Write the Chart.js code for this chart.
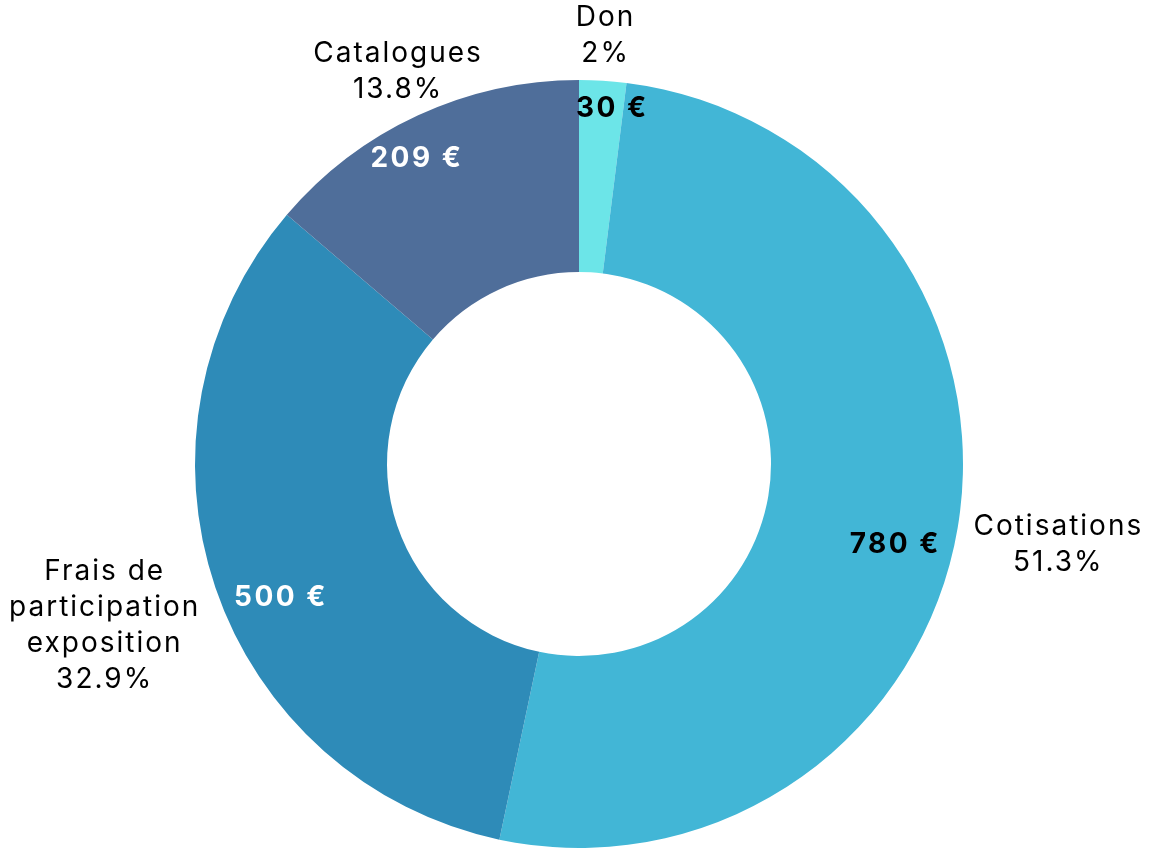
<!DOCTYPE html>
<html>
<head>
<meta charset="utf-8">
<script src="https://cdn.jsdelivr.net/npm/chart.js@4"></script>
<style>
  html, body { margin: 0; padding: 0; background: #fff; }
  #wrap { width: 1152px; height: 854px; }
</style>
</head>
<body>
<div id="wrap"><canvas id="pieChart" width="1152" height="854"></canvas></div>
<script>
// Données du graphique
const categories = ['Don', 'Cotisations', 'Frais de participation exposition', 'Catalogues'];
const montants = [30, 780, 500, 209];
const couleurs = ['#6ce5e8', '#42b6d6', '#2e8bb8', '#4f6e9a'];
const couleursValeurs = ['#000000', '#000000', '#ffffff', '#ffffff'];
// lignes des étiquettes extérieures
const lignesNoms = [['Don'], ['Cotisations'], ['Frais de', 'participation', 'exposition'], ['Catalogues']];
// petits décalages (degrés, fraction du rayon) pour les montants
const decalAngle = [1.8, 4.7, -5.3, -3.2];
const decalRayon = [0.93, 0.85, 0.85, 0.9];

const FONT = 'Inter, "Open Sans", sans-serif';

function formatPct(v, total) {
    let s = (v / total * 100).toFixed(1);
    if (s.endsWith('.0')) s = s.slice(0, -2);
    return s + '%';
}

const etiquettes = {
    id: 'etiquettes',
    afterDatasetsDraw(chart) {
        const ctx = chart.ctx;
        const meta = chart.getDatasetMeta(0);
        const total = montants.reduce((a, b) => a + b, 0);
        ctx.save();
        ctx.textAlign = 'center';
        ctx.textBaseline = 'middle';
        meta.data.forEach((arc, i) => {
            const p = arc.getProps(['x', 'y', 'startAngle', 'endAngle', 'outerRadius'], true);
            const mid = (p.startAngle + p.endAngle) / 2;

            // montant à l'intérieur
            const a = mid + decalAngle[i] * Math.PI / 180;
            const r = p.outerRadius * decalRayon[i];
            ctx.font = 'bold 28px ' + FONT;
            ctx.letterSpacing = '2.5px';
            ctx.fillStyle = couleursValeurs[i];
            ctx.fillText(montants[i] + ' €', p.x + Math.cos(a) * r, p.y + Math.sin(a) * r);

            // nom + pourcentage à l'extérieur
            const lignes = lignesNoms[i].concat([formatPct(montants[i], total)]);
            ctx.font = '28px ' + FONT;
            ctx.letterSpacing = '2px';
            const lh = 36;
            const w = Math.max(...lignes.map(l => ctx.measureText(l).width));
            const h = lignes.length * lh - 14;
            const ux = Math.cos(mid), uy = Math.sin(mid);
            const d = Math.min(Math.abs(ux) > 1e-6 ? (w / 2) / Math.abs(ux) : 1e9,
                               Math.abs(uy) > 1e-6 ? (h / 2) / Math.abs(uy) : 1e9);
            const rr = p.outerRadius + 16 + d;
            const cx = p.x + ux * rr, cy = p.y + uy * rr;
            ctx.fillStyle = '#000000';
            const n = lignes.length;
            lignes.forEach((l, k) => {
                ctx.fillText(l, cx, cy + (k - (n - 1) / 2) * lh);
            });
        });
        ctx.restore();
    }
};

const ctx = document.getElementById('pieChart').getContext('2d');
new Chart(ctx, {
    type: 'doughnut',
    data: {
        labels: categories,
        datasets: [{
            data: montants,
            backgroundColor: couleurs,
            borderWidth: 0
        }]
    },
    options: {
        responsive: false,
        animation: false,
        cutout: '50%',
        layout: { padding: { top: 80, bottom: 6, left: 195, right: 189 } },
        plugins: {
            legend: { display: false },
            tooltip: { enabled: false }
        }
    },
    plugins: [etiquettes]
});
</script>
</body>
</html>
